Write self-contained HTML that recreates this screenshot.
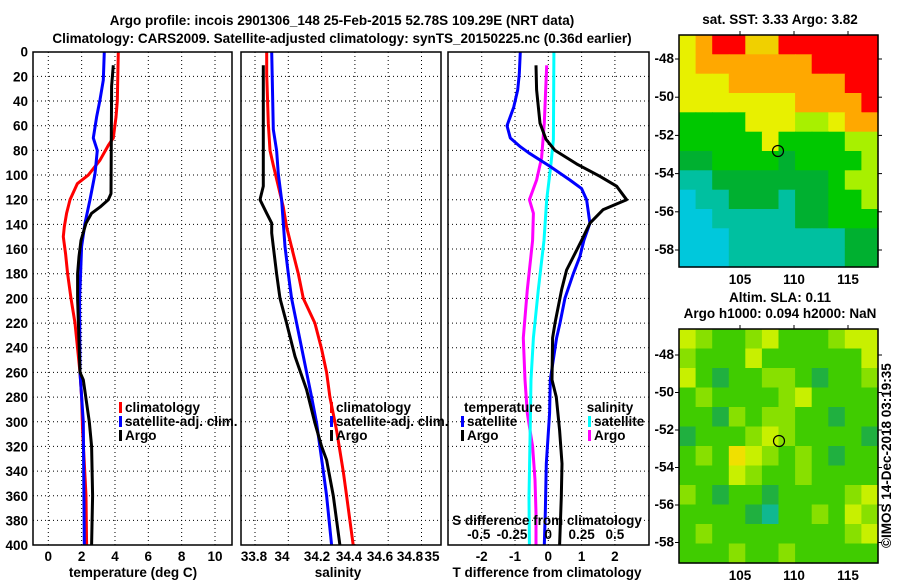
<!DOCTYPE html>
<html><head><meta charset="utf-8"><style>
body{margin:0;background:#fff}
svg text{font-family:"Liberation Sans",sans-serif;font-weight:bold;font-size:13.5px;fill:#000}
</style></head><body>
<svg id="c" width="900" height="580" viewBox="0 0 900 580" xmlns="http://www.w3.org/2000/svg">
<text x="342" y="25" text-anchor="middle" font-size="15">Argo profile: incois 2901306_148 25-Feb-2015 52.78S 109.29E (NRT data)</text>
<text x="342" y="43" text-anchor="middle" font-size="15">Climatology: CARS2009. Satellite-adjusted climatology: synTS_20150225.nc (0.36d earlier)</text>
<text x="780" y="24" text-anchor="middle">sat. SST: 3.33 Argo: 3.82</text>
<text x="780" y="302" text-anchor="middle">Altim. SLA: 0.11</text>
<text x="780" y="318" text-anchor="middle">Argo h1000: 0.094 h2000: NaN</text>
<text transform="translate(891,548) rotate(-90)" font-weight="normal" font-size="13">©IMOS 14-Dec-2018 03:19:35</text>
<g id="g"></g>
</svg>
<script>
const depthTicks=[0,20,40,60,80,100,120,140,160,180,200,220,240,260,280,300,320,340,360,380,400];
const tTicks=[0,2,4,6,8,10];
const sTickLabels=["33.8","34","34.2","34.4","34.6","34.8","35"];
const sGrid=[33.8,34.0,34.2,34.4,34.6,34.8];
const dTicks=[-2,-1,0,1,2];
const sdTickLabels=["-0.5","-0.25","0","0.25","0.5"];
const sdTickVals=[-0.5,-0.25,0,0.25,0.5];

const tClimD=[0,40,53,70,76,88,100,107,120,131,142,150,164,180,200,220,260,280,307,360,400];
const tClimV=[4.2,4.14,4.06,3.9,3.6,3.1,2.4,1.74,1.3,1.1,0.96,0.9,1.04,1.16,1.36,1.6,1.9,2.0,2.06,2.26,2.3];
const tSatD=[0,23,39,53,70,80,99,120,139,158,180,200,260,300,400];
const tSatV=[3.36,3.3,3.1,2.9,2.7,2.94,2.8,2.5,2.2,2.0,1.94,1.88,1.9,2.1,2.16];
const tArgoD=[11,28,115,120,126,131,139,153,166,180,200,260,266,300,320,360,400];
const tArgoV=[3.9,3.8,3.76,3.6,3.1,2.6,2.26,1.96,1.84,1.76,1.76,1.9,2.1,2.46,2.6,2.66,2.6];

const sClimD=[0,18,58,80,92,109,126,142,164,180,200,220,241,260,280,307,340,360,400];
const sClimV=[33.87,33.87,33.88,33.89,33.91,33.94,33.97,33.99,34.03,34.06,34.09,34.16,34.2,34.23,34.25,34.29,34.33,34.35,34.39];
const sSatD=[0,63,80,99,120,139,158,180,200,220,260,280,301,340,360,400];
const sSatV=[33.9,33.91,33.93,33.94,33.96,33.97,33.98,34.0,34.02,34.05,34.11,34.14,34.17,34.21,34.23,34.26];
const sArgoD=[11,109,120,131,139,147,158,180,200,220,247,274,301,320,331,360,400];
const sArgoV=[33.85,33.85,33.83,33.87,33.9,33.9,33.91,33.93,33.95,33.99,34.04,34.11,34.16,34.2,34.23,34.27,34.31];

const dtSatD=[0,18,31,45,60,70,77,82,93,104,111,120,139,153,166,180,200,220,232,266,293,334,374,400];
const dtSatV=[-0.84,-0.87,-0.92,-1.04,-1.24,-1.14,-0.84,-0.59,0.05,0.65,1.0,1.15,1.25,1.07,0.95,0.75,0.5,0.35,0.25,0.06,0.04,-0.06,-0.09,-0.12];
const dtArgoD=[11,31,58,71,80,91,101,109,120,128,139,153,161,177,193,220,232,266,280,307,334,361,400];
const dtArgoV=[-0.37,-0.35,-0.25,-0.07,0.2,0.85,1.55,2.05,2.35,1.65,1.25,1.0,0.85,0.55,0.4,0.2,0.13,0.11,0.24,0.34,0.41,0.39,0.34];
const dsArgoD=[11,58,86,104,120,131,153,193,232,266,293,320,347,374,400];
const dsArgoV=[-0.012,-0.03,-0.05,-0.088,-0.142,-0.112,-0.118,-0.158,-0.188,-0.175,-0.158,-0.118,-0.1,-0.092,-0.092];
const dsSatD=[0,71,93,120,153,193,232,266,320,361,400];
const dsSatV=[0.042,0.038,0.018,-0.012,-0.032,-0.075,-0.112,-0.13,-0.138,-0.145,-0.142];

const sstGrid=["yorrOOrrrrrr","yooooooorrrr","yyyooooooorr","yyyyyyyoooor","GGGGyyyllyoo","GGGGGyGGGGll","ggGGGGgGGGGl","ttgggggggGll","cttgggtggGGl","cctttttggGGG","ccctttttttgg","ccctttttttgg"];
const slaGrid=["YlGGlYGGGlYY","lGGGYGGGGGGY","YGdGGllGdGGl","GlGGGGlYGGGG","GGdlGllGGdGG","dGGGlYlGGGGd","GlGOYlGlGdGG","GGGYlGGlGGGG","lGdGGdGGGGlY","GGGGdtGGlGYl","GlGGGGGGGGlY","GGGlGGlGGGGG"];
const latTicks=[-48,-50,-52,-54,-56,-58];
const lonTicks=[105,110,115];

const NS="http://www.w3.org/2000/svg";
const G=document.getElementById('g');
function mk(t,a,p){const e=document.createElementNS(NS,t);for(const k in a)e.setAttribute(k,a[k]);(p||G).appendChild(e);return e;}
function txt(x,y,s,anchor,p){const e=mk('text',{x:x,y:y,'text-anchor':anchor||'middle'},p);e.textContent=s;return e;}
const y=d=>51.7+d*1.2335;
const xT=v=>48.3+v*16.67;
const xS=v=>255+(v-33.8)*166.5;
const xD=v=>548.3+v*33.3;
const xSD=v=>548.3+v*4*33.3;

function panel(name,x0,x1,gridX){
  const g=mk('g',{});
  
  
  gridX.forEach(gx=>{const l=mk('line',{x1:gx,x2:gx,y1:52,y2:545,stroke:'#000','stroke-dasharray':'1 3','stroke-width':1},g);
    });
  depthTicks.forEach(d=>{if(d==0||d==400)return;const l=mk('line',{x1:x0,x2:x1,y1:y(d),y2:y(d),stroke:'#000','stroke-dasharray':'1 3','stroke-width':1},g);
    });
  return g;
}
function frame(name,x0,x1){const r=mk('rect',{x:x0,y:52,width:x1-x0,height:493,fill:'none',stroke:'#000','stroke-width':1.5});
  }
function line(name,D,V,fx,col,w){const pts=D.map((d,i)=>fx(V[i]).toFixed(1)+','+y(d).toFixed(1)).join(' ');
  const p=mk('polyline',{points:pts,fill:'none',stroke:col,'stroke-width':w||3,'stroke-linejoin':'round'});
  }
function legend(x,yy,col,label,name){const g=mk('g',{});
  
  mk('rect',{x:x,y:yy-10,width:3,height:11,fill:col},g);txt(x+6,yy,label,'start',g);}

// Panel 1 temperature
panel('temperature-panel',33,232,tTicks.map(xT));
line('temperature-climatology-line',tClimD,tClimV,xT,'#f00');
line('temperature-satellite-line',tSatD,tSatV,xT,'#00f');
line('temperature-argo-line',tArgoD,tArgoV,xT,'#000');
frame('temperature-frame',33,232);
depthTicks.forEach(d=>{const t=txt(28,y(d)+5,String(d),'end');});
tTicks.forEach(v=>{const t=txt(xT(v),561,String(v));});
{const t=txt(133,577,'temperature (deg C)');}
legend(119,412,'#f00','climatology','legend-climatology');
legend(119,426,'#00f','satellite-adj. clim.','legend-satellite-adj');
legend(119,440,'#000','Argo','legend-argo');

// Panel 2 salinity
panel('salinity-panel',241,441,sGrid.map(xS));
line('salinity-climatology-line',sClimD,sClimV,xS,'#f00');
line('salinity-satellite-line',sSatD,sSatV,xS,'#00f');
line('salinity-argo-line',sArgoD,sArgoV,xS,'#000');
frame('salinity-frame',241,441);
const sLabX=[254,282,317,349,380,410,432];
sTickLabels.forEach((s,i)=>{const t=txt(sLabX[i],561,s);});
{const t=txt(338,577,'salinity');}
legend(330,412,'#f00','climatology','legend-climatology-2');
legend(330,426,'#00f','satellite-adj. clim.','legend-satellite-adj-2');
legend(330,440,'#000','Argo','legend-argo-2');

// Panel 3 differences
panel('difference-panel',448,649,dTicks.map(xD));
line('salinity-diff-argo-line',dsArgoD,dsArgoV,xSD,'#f0f');
line('salinity-diff-satellite-line',dsSatD,dsSatV,xSD,'#0ff');
line('temperature-diff-satellite-line',dtSatD,dtSatV,xD,'#00f');
line('temperature-diff-argo-line',dtArgoD,dtArgoV,xD,'#000');
frame('difference-frame',448,649);
dTicks.forEach(v=>{const t=txt(xD(v),561,String(v));});
{const t=txt(547,577,'T difference from climatology');}
{const t=txt(547,525,'S difference from climatology');}
sdTickVals.forEach((v,i)=>{const t=txt(xSD(v)+(v<0?-3:0),539,sdTickLabels[i]);});
{const t=txt(503,412,'temperature');}
{const t=txt(610,412,'salinity');}
legend(461,426,'#00f','satellite','legend-t-satellite');
legend(461,440,'#000','Argo','legend-t-argo');
legend(588,426,'#0ff','satellite','legend-s-satellite');
legend(588,440,'#f0f','Argo','legend-s-argo');

// Maps
const COL={r:'#ff0000',o:'#ffa800',y:'#e8f000',l:'#a8f000',G:'#00c800',g:'#00b030',t:'#00c0a0',c:'#00c8dc',
  Y:'#d0f000',d:'#20b848',O:'#f0d000'};
const COL2={Y:'#c8f000',l:'#88e000',G:'#40cc00',d:'#20b040',O:'#f0e000',t:'#10b890'};
function map(name,grid,pal,x0,y0,w,h,latY0,latStep,circle){
  const g=mk('g',{});
  
  const cw=w/12,ch=h/12;
  grid.forEach((row,r)=>{for(let c=0;c<12;c++){const rc=mk('rect',{x:(x0+c*cw).toFixed(1),y:(y0+r*ch).toFixed(1),width:(cw+0.6).toFixed(1),height:(ch+0.6).toFixed(1),fill:pal[row[c]]||COL[row[c]]},g);
    }});
  mk('rect',{x:x0,y:y0,width:w,height:h,fill:'none',stroke:'#000','stroke-width':1.5},g);
  latTicks.forEach((v,i)=>{const yy=latY0+i*latStep;mk('line',{x1:x0+w,x2:x0+w+4,y1:yy,y2:yy,stroke:'#000'},g);mk('line',{x1:x0-4,x2:x0,y1:yy,y2:yy,stroke:'#000'},g);
    const t=txt(x0-5,yy+4,String(v),'end',g);});
  const lx=v=>740+(v-105)*10.8;
  lonTicks.forEach(v=>{mk('line',{x1:lx(v),x2:lx(v),y1:y0-4,y2:y0,stroke:'#000'},g);
    const t=txt(lx(v),y0+h+17,String(v),'middle',g);});
  const ci=mk('circle',{cx:circle[0],cy:circle[1],r:5.5,fill:'none',stroke:'#000','stroke-width':1.2},g);
  
}
map('sst-map',sstGrid,COL,679,35,199,232,59,38.2,[778,151]);
map('sla-map',slaGrid,COL2,679,329,199,234,355,37.5,[779,441]);
</script>
</body></html>
